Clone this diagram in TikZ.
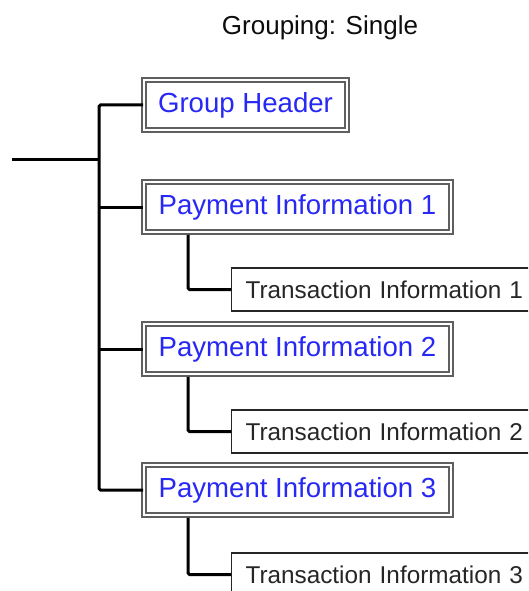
\documentclass[tikz,border=0pt]{standalone}
\usepackage{fontspec}
\setmainfont{Liberation Sans}
\definecolor{hdrblue}{RGB}{40,40,245}
\definecolor{boxgray}{RGB}{95,95,95}
\begin{document}
\begin{tikzpicture}[x=1pt,y=-1pt,
  groupbox/.style={draw=boxgray, double=white, line width=1.8pt, double distance=1.6pt,
    fill=white, inner sep=0pt, minimum height=50pt, text=hdrblue,
    font=\fontsize{27.6}{30}\selectfont},
  txbox/.style={draw=black!85, line width=1.2pt, fill=white, inner sep=0pt, minimum height=43pt,
    text=black!85, font=\fontsize{24.3}{27}\selectfont, anchor=west, align=left},
  conn/.style={draw=black, line width=3pt},
  subconn/.style={draw=black, line width=3pt, rounded corners=1.5pt}]
\useasboundingbox (0,0) rectangle (528,591);
\clip (0,0) rectangle (528,591);
\node[font=\fontsize{26}{30}\selectfont, text=black!95] (title) at (320,28) {Grouping: Single};
\coordinate (root) at (12,159);
\coordinate (trunktop) at (99,105);
\coordinate (trunkmid) at (99,159);
\coordinate (trunkbot) at (99,490);
\node[groupbox, minimum width=203pt] (gh) at (245.5,105) {Group Header};
\node[groupbox, minimum width=307pt] (p1) at (297.5,207) {Payment Information 1};
\node[groupbox, minimum width=307pt] (p2) at (297.5,349) {Payment Information 2};
\node[groupbox, minimum width=307pt] (p3) at (297.5,490) {Payment Information 3};
\node[txbox, text width=300pt] (t1) at (231,289.5) {\hspace{14pt}Transaction Information 1};
\node[txbox, text width=300pt] (t2) at (231,431.5) {\hspace{14pt}Transaction Information 2};
\node[txbox, text width=300pt] (t3) at (231,574.5) {\hspace{14pt}Transaction Information 3};
\draw[conn] (root) -- (trunkmid);
\draw[conn, rounded corners=1.5pt] (gh.west) -- (trunktop) -- (trunkbot) -- (p3.west);
\draw[conn] (trunktop |- p1.west) -- (p1.west);
\draw[conn] (trunktop |- p2.west) -- (p2.west);
\draw[subconn] (188,0 |- p1.south) ++(0,2) -- (188,0 |- t1.west) -- (t1.west);
\draw[subconn] (188,0 |- p2.south) ++(0,2) -- (188,0 |- t2.west) -- (t2.west);
\draw[subconn] (188,0 |- p3.south) ++(0,2) -- (188,0 |- t3.west) -- (t3.west);
\end{tikzpicture}
\end{document}
